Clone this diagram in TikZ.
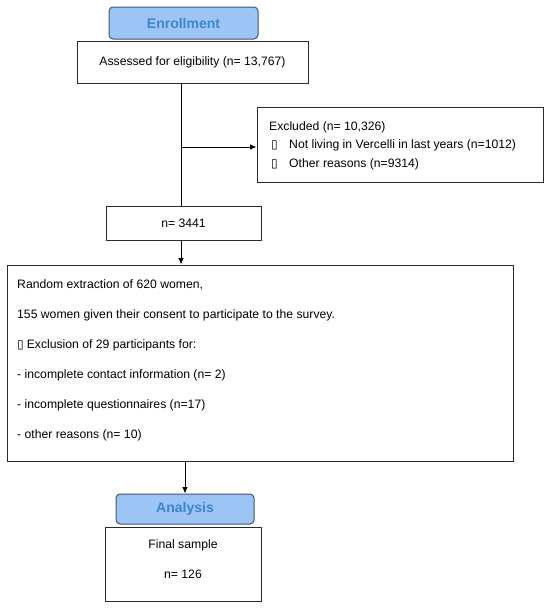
\documentclass[tikz,border=0pt]{standalone}
\usepackage{fontspec}
\setmainfont{Liberation Sans}
\newfontfamily\symfont{DejaVu Sans}
\usetikzlibrary{arrows.meta,calc}
\definecolor{phasefill}{HTML}{9CC4F5}
\definecolor{phaseline}{HTML}{43556B}
\definecolor{phasetext}{HTML}{3A86CF}
\definecolor{boxline}{HTML}{2A2A2A}
\tikzset{
  phase/.style={draw=phaseline, line width=1pt, fill=phasefill, rounded corners=4pt,
    font=\fontsize{14}{16}\selectfont\bfseries, text=phasetext, inner sep=0pt},
  infobox/.style={draw=boxline, line width=1pt, fill=white, inner sep=0pt},
  txt/.style={font=\fontsize{12.2}{14}\selectfont, inner sep=0pt},
  conn/.style={draw=black, line width=0.9pt},
  arr/.style={conn, -{Latex[length=6.5pt,width=5.5pt]}}
}
\newcommand{\glyphbox}{{\symfont\fontsize{12}{12}\selectfont ▯}}
\newcommand{\bx}{\makebox[18pt][l]{\glyphbox}}
\begin{document}
\begin{tikzpicture}[x=1pt,y=-1pt]
\useasboundingbox (0,0) rectangle (550,608);
% phase headers
\node[phase, minimum width=149pt, minimum height=32pt] (enroll) at (183.5,23) {Enrollment};
\node[phase, minimum width=138pt, minimum height=30pt] (analysis) at (185,509) {Analysis};
% boxes
\node[infobox, txt, minimum width=231pt, minimum height=42pt] (assessed) at (192.5,62) {Assessed for eligibility (n= 13,767)};
\node[infobox, minimum width=286pt, minimum height=75pt] (excl) at (400,144.5) {};
\node[txt, anchor=north west, align=left, font=\fontsize{12.2}{18.5}\selectfont] (excltxt) at (269,121)
  {Excluded (n= 10,326)\\ \hspace*{2pt}\bx Not living in Vercelli in last years (n=1012)\\ \hspace*{2pt}\bx Other reasons (n=9314)};
\node[infobox, txt, minimum width=155pt, minimum height=34pt] (n3441) at (183.5,223) {n= 3441};
\node[infobox, minimum width=506pt, minimum height=196pt] (big) at (260,363) {};
\node[txt, anchor=north west, align=left, font=\fontsize{12.2}{30}\selectfont] (bigtxt) at (17,279)
  {Random extraction of 620 women,\\
   155 women given their consent to participate to the survey.\\
   \glyphbox\hspace{3pt}Exclusion of 29 participants for:\\
   - incomplete contact information (n= 2)\\
   - incomplete questionnaires (n=17)\\
   - other reasons (n= 10)};
\node[infobox, minimum width=156pt, minimum height=74pt] (final) at (183,564) {};
\node[txt, align=center, font=\fontsize{12.2}{30}\selectfont] (finaltxt) at (183,559)
  {Final sample\\ n= 126};
% connectors
\coordinate (ax) at (181,0);
\coordinate (br) at (181,147);
\draw[conn] (assessed.south -| ax) -- (n3441.north -| ax);
\draw[arr] (br) -- (excl.west |- br);
\draw[arr] (n3441.south -| ax) -- (big.north -| ax);
\draw[arr] (big.south -| analysis.north) -- (analysis.north);
\end{tikzpicture}
\end{document}
